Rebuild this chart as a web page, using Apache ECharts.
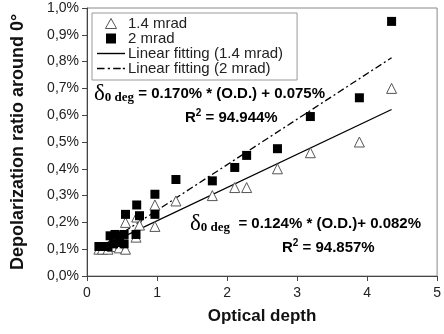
<!DOCTYPE html>
<html>
<head>
<meta charset="utf-8">
<script src="https://cdn.jsdelivr.net/npm/echarts@6/dist/echarts.min.js"></script>
<style>
  html, body { margin: 0; padding: 0; background: #fff; }
  #chart { width: 444px; height: 334px; }
</style>
</head>
<body>
<div id="chart"></div>
<script>
// optical depth vs depolarization ratio (%)
const MRAD_14 = [
  [0.17, 0.10], [0.22, 0.10], [0.30, 0.10], [0.36, 0.11], [0.46, 0.105],
  [0.55, 0.10], [0.55, 0.20], [0.70, 0.145], [0.71, 0.22], [0.75, 0.19],
  [0.97, 0.265], [0.97, 0.185], [1.27, 0.28], [1.79, 0.30], [2.11, 0.33],
  [2.28, 0.33], [2.72, 0.40], [3.19, 0.46], [3.89, 0.50], [4.35, 0.70]
]
const MRAD_2 = [
  [0.17, 0.11], [0.23, 0.11], [0.30, 0.11], [0.33, 0.15], [0.38, 0.12],
  [0.40, 0.155], [0.46, 0.15], [0.46, 0.125], [0.53, 0.155], [0.53, 0.12],
  [0.55, 0.23], [0.70, 0.155], [0.71, 0.265], [0.75, 0.225],
  [0.97, 0.305], [0.97, 0.23], [1.27, 0.36], [1.79, 0.355], [2.11, 0.405],
  [2.28, 0.45], [2.72, 0.475], [3.19, 0.595], [3.89, 0.665], [4.35, 0.95]
]
// linear fits: [slope, intercept] in %
const FIT_14 = [0.124, 0.082]
const FIT_2 = [0.170, 0.075]
const R2_14 = '94.857%'
const R2_2 = '94.944%'
const SERIES_NAMES = ['1.4 mrad', '2 mrad', 'Linear fitting (1.4 mrad)', 'Linear fitting (2 mrad)']

function fitLine(points, fit) {
  const xs = points.map((p) => p[0])
  const lo = Math.min(...xs)
  const hi = Math.max(...xs)
  return [lo, hi].map((x) => [x, fit[0] * x + fit[1]])
}

// legend glyphs (filled paths, fitted into the icon box keeping aspect)
const ICON_TRI = 'path://M5,0L10,9L0,9Z'
const ICON_SQ = 'path://M0,0H8V8H0Z'
const ICON_SOLID = 'path://M0,0H26V1.3H0Z'
const ICON_DASHDOT = 'path://M0,0H7V1.3H0Z M10,0H12V1.3H10Z M15,0H22V1.3H15Z M24,0H26V1.3H24Z'

const chart = echarts.init(document.getElementById('chart'))

const eqRich = {
  d: { fontFamily: 'Liberation Serif', fontSize: 23, color: '#111' },
  s: { fontFamily: 'Liberation Serif', fontWeight: 'bold', fontSize: 13, color: '#111', padding: [9, 0, 0, 0] },
  t: { fontFamily: 'Liberation Sans', fontWeight: 'bold', fontSize: 15, color: '#111' },
  sup: { fontFamily: 'Liberation Sans', fontWeight: 'bold', fontSize: 10, color: '#111', padding: [0, 0, 9, 0] },
}

chart.setOption({
  backgroundColor: '#fff',
  animation: false,
  grid: { left: 87, right: 4, top: 8, bottom: 58, show: true, borderColor: '#888', borderWidth: 1 },
  xAxis: {
    type: 'value',
    min: 0,
    max: 5,
    interval: 1,
    name: 'Optical depth',
    nameLocation: 'middle',
    nameGap: 32,
    nameTextStyle: { fontFamily: 'Liberation Sans', fontWeight: 'bold', fontSize: 17, color: '#111' },
    axisLine: { lineStyle: { color: '#444' } },
    axisTick: { length: 5, lineStyle: { color: '#444' } },
    axisLabel: { fontFamily: 'Liberation Sans', fontSize: 14, color: '#222', margin: 10 },
    splitLine: { show: false },
  },
  yAxis: {
    type: 'value',
    min: 0,
    max: 1.0,
    interval: 0.1,
    name: 'Depolarization ratio around 0°',
    nameLocation: 'middle',
    nameGap: 60,
    nameTextStyle: { fontFamily: 'Liberation Sans', fontWeight: 'bold', fontSize: 18, color: '#111' },
    axisLine: { show: true, lineStyle: { color: '#444' } },
    axisTick: { show: true, length: 5, lineStyle: { color: '#444' } },
    axisLabel: {
      fontFamily: 'Liberation Sans',
      fontSize: 14,
      color: '#222',
      margin: 8,
      formatter: (v) => v.toFixed(1).replace('.', ',') + '%',
    },
    splitLine: { show: false },
  },
  legend: {
    orient: 'vertical',
    left: 92,
    top: 13,
    padding: [3, 14, 4, 5],
    itemGap: 0,
    itemWidth: 28,
    itemHeight: 10,
    symbolKeepAspect: true,
    backgroundColor: '#fff',
    borderColor: '#999',
    borderWidth: 1,
    borderRadius: 0,
    textStyle: { fontFamily: 'Liberation Sans', fontSize: 15, color: '#222', lineHeight: 14, padding: [0, 0, 0, -2] },
    data: [
      { name: SERIES_NAMES[0], icon: ICON_TRI, itemStyle: { borderWidth: 1 } },
      { name: SERIES_NAMES[1], icon: ICON_SQ },
      { name: SERIES_NAMES[2], icon: ICON_SOLID, itemStyle: { color: '#000' } },
      { name: SERIES_NAMES[3], icon: ICON_DASHDOT, itemStyle: { color: '#000' } },
    ],
  },
  graphic: [
    {
      type: 'text', left: 94, top: 82, z: 10,
      style: { text: '{d|δ}{s|0 deg}{t| = 0.' + FIT_2[0].toFixed(3).slice(2) + '% * (O.D.) + ' + FIT_2[1].toFixed(3) + '%}', rich: eqRich },
    },
    {
      type: 'text', left: 185, top: 108, z: 10,
      style: { text: '{t|R}{sup|2}{t| = ' + R2_2 + '}', rich: eqRich },
    },
    {
      type: 'text', left: 190, top: 212, z: 10,
      style: { text: '{d|δ}{s|0 deg}{t|  = ' + FIT_14[0].toFixed(3) + '% * (O.D.)+ ' + FIT_14[1].toFixed(3) + '%}', rich: eqRich },
    },
    {
      type: 'text', left: 282, top: 238, z: 10,
      style: { text: '{t|R}{sup|2}{t| = ' + R2_14 + '}', rich: eqRich },
    },
  ],
  series: [
    {
      name: SERIES_NAMES[0],
      type: 'scatter',
      data: MRAD_14,
      symbol: 'triangle',
      symbolSize: 10,
      itemStyle: { color: '#fff', borderColor: '#555', borderWidth: 1, opacity: 1 },
      z: 3,
    },
    {
      name: SERIES_NAMES[1],
      type: 'scatter',
      data: MRAD_2,
      symbol: 'rect',
      symbolSize: 9,
      itemStyle: { color: '#000', opacity: 1 },
      z: 4,
    },
    {
      name: SERIES_NAMES[2],
      type: 'line',
      data: fitLine(MRAD_14, FIT_14),
      symbol: 'none',
      lineStyle: { color: '#000', width: 1.3, type: 'solid' },
      itemStyle: { color: '#000' },
      z: 2,
    },
    {
      name: SERIES_NAMES[3],
      type: 'line',
      data: fitLine(MRAD_2, FIT_2),
      symbol: 'none',
      lineStyle: { color: '#000', width: 1.3, type: [7, 3, 2, 3] },
      itemStyle: { color: '#000' },
      z: 2,
    },
  ],
})
</script>
</body>
</html>
